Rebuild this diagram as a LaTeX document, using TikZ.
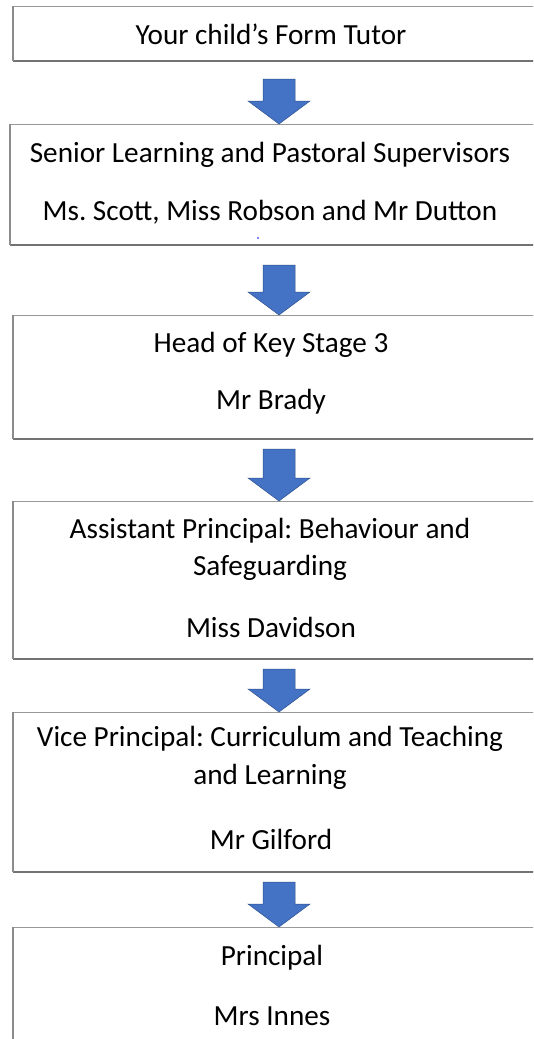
\documentclass[tikz,border=0pt]{standalone}
\usepackage{fontspec}
\setmainfont{Carlito}
\usetikzlibrary{calc}
\definecolor{arrowblue}{HTML}{4472C4}
\definecolor{arrowedge}{HTML}{2F528F}
\tikzset{
  box/.style={draw=black!40, line width=1.1pt, rectangle, anchor=north west, inner sep=0pt},
  boxshade/.style={draw=black!55, line width=2.4pt},
  boxleft/.style={draw=black!45, line width=1.8pt},
  txt/.style={anchor=base, inner sep=0pt, font=\fontsize{29.2}{35}\selectfont\frenchspacing, text=black},
  blockarrow/.style={fill=arrowblue, draw=arrowedge, line width=0.5pt, line join=miter},
}
\newcommand{\mkbox}[5]{% name, left, top, bottom, right
  \node[box, minimum width=#5-#2, minimum height=#4-#3] (#1) at (#2,#3) {};
  \draw[boxshade] (#1.south west) -- (#1.south east);
  \draw[boxleft] (#1.south west) -- (#1.north west);
}
\newcommand{\flowarrow}[3]{% from, to, gap
  \path (#1.south -| ax) ++(0,#3) coordinate (s-#1);
  \path (#2.north -| ax) coordinate (t-#1);
  \draw[blockarrow] ($(s-#1)+(-16pt,0)$) -- ($(s-#1)+(16pt,0)$) -- ($(t-#1)+(16pt,23pt)$) -- ($(t-#1)+(31pt,23pt)$) -- (t-#1) -- ($(t-#1)+(-31pt,23pt)$) -- ($(t-#1)+(-16pt,23pt)$) -- cycle;
}
\begin{document}
\begin{tikzpicture}[x=1pt, y=-1pt]
\useasboundingbox (0,0) rectangle (533,1039);
\clip (0,0) rectangle (533,1039);
\fill[white] (0,0) rectangle (533,1039);
\coordinate (ax) at (279,0);

\mkbox{b1}{13}{6}{60}{545}
\mkbox{b2}{10}{124}{244}{545}
\mkbox{b3}{13}{315}{438}{545}
\mkbox{b4}{13}{501}{658}{545}
\mkbox{b5}{13}{712}{871}{545}
\mkbox{b6}{13}{927}{1060}{545}

\node[txt] (t1) at (271,44) {Your child’s Form Tutor};
\node[txt] (t2a) at (270,162) {Senior Learning and Pastoral Supervisors};
\node[txt] (t2b) at (270,220) {Ms. Scott, Miss Robson and Mr Dutton};
\fill[blue] (258,238) circle (0.8pt);
\node[txt] (t3a) at (271,352) {Head of Key Stage 3};
\node[txt] (t3b) at (271,409) {Mr Brady};
\node[txt] (t4a) at (270,538) {Assistant Principal: Behaviour and};
\node[txt] (t4b) at (270,575) {Safeguarding};
\node[txt] (t4c) at (271,637) {Miss Davidson};
\node[txt] (t5a) at (270,746) {Vice Principal: Curriculum and Teaching};
\node[txt] (t5b) at (270,784) {and Learning};
\node[txt] (t5c) at (271,849) {Mr Gilford};
\node[txt] (t6a) at (272,965) {Principal};
\node[txt] (t6b) at (272,1025) {Mrs Innes};

\flowarrow{b1}{b2}{18}
\flowarrow{b2}{b3}{20}
\flowarrow{b3}{b4}{10}
\flowarrow{b4}{b5}{10}
\flowarrow{b5}{b6}{10}
\end{tikzpicture}
\end{document}
